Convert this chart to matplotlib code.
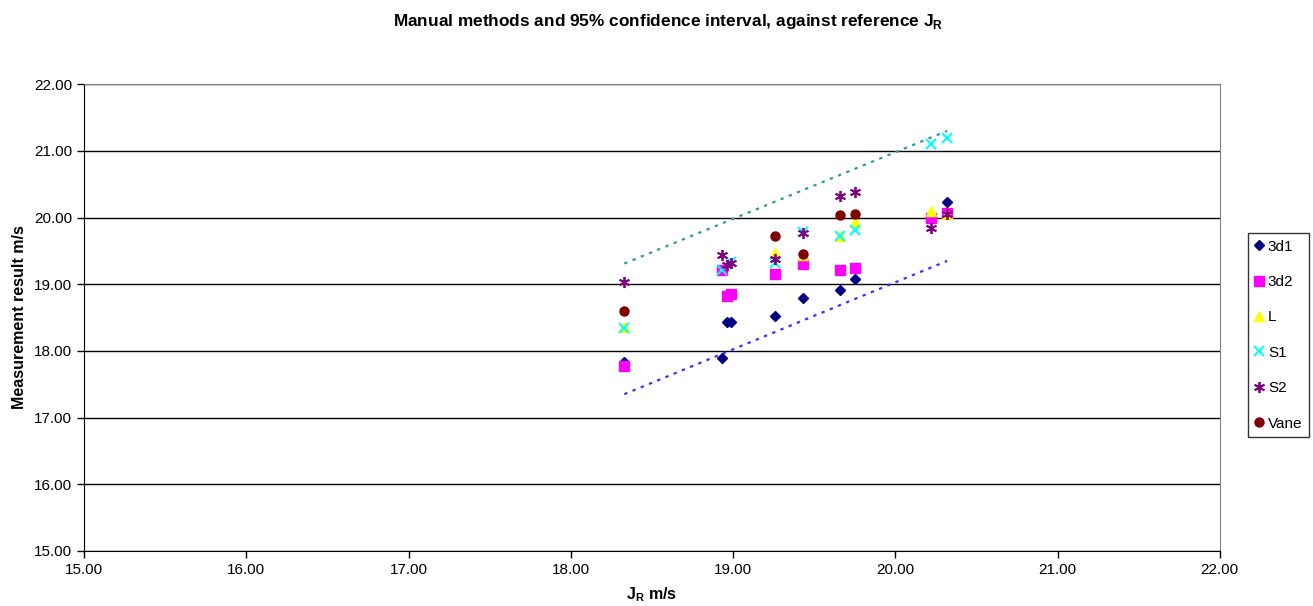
import matplotlib.pyplot as plt
import numpy as np

plt.rcParams['font.family'] = ['Liberation Sans', 'DejaVu Sans']

nan = np.nan

# reference J_R values (x)
jr = [18.33, 18.93, 18.96, 18.99, 19.26, 19.43, 19.66, 19.75, 20.22, 20.32]

# manual method results (y)
d3d1 = [17.84, 17.89, 18.43, 18.44, 18.52, 18.80, 18.92, 19.08, nan, 20.23]
d3d2 = [17.78, 19.21, 18.82, 18.85, 19.16, 19.30, 19.22, 19.24, 20.00, 20.07]
d_l = [18.36, nan, nan, nan, 19.47, 19.44, 19.72, 19.94, 20.10, 20.05]
d_s1 = [18.35, 19.21, nan, 19.33, 19.32, 19.79, 19.73, 19.82, 21.11, 21.19]
d_s2 = [19.03, 19.44, 19.29, 19.32, 19.38, 19.77, 20.33, 20.38, 19.85, 20.06]
d_vane = [18.60, nan, nan, nan, 19.73, 19.46, 20.04, 20.05, nan, nan]

# 95% confidence interval end points
ci_x = [18.33, 20.32]
ci_upper = [19.31, 21.30]
ci_lower = [17.35, 19.35]

fig = plt.figure(figsize=(13.13, 6.06), dpi=100)
ax = fig.add_axes([0.064, 0.091, 0.865, 0.770])

for y in range(15, 23):
    ax.axhline(y, color='black', lw=1.0, zorder=0)

ax.plot(ci_x, ci_upper, color='#339999', ls=(0, (1.5, 2.5)), lw=1.6, zorder=1)
ax.plot(ci_x, ci_lower, color='#3333ff', ls=(0, (1.5, 2.5)), lw=1.6, zorder=1)

ax.plot(jr, d3d1, 'D', color='#000080', ms=5, ls='none', label='3d1')
ax.plot(jr, d3d2, 's', color='#ff00ff', ms=6.5, ls='none', label='3d2')
ax.plot(jr, d_l, '^', color='#ffff00', ms=7, ls='none', label='L')
ax.plot(jr, d_s1, 'x', color='#00ffff', ms=7, mew=1.5, ls='none', label='S1')
ax.plot(jr, d_s2, marker=(6, 2, 0), color='#800080', ms=8, mew=1.3, ls='none', label='S2')
ax.plot(jr, d_vane, 'o', color='#800000', ms=6.5, ls='none', label='Vane')

ax.set_xlim(15, 22)
ax.set_ylim(15, 22)
ax.set_xticks(np.arange(15, 23))
ax.set_yticks(np.arange(15, 23))
ax.xaxis.set_major_formatter(plt.FormatStrFormatter('%.2f'))
ax.yaxis.set_major_formatter(plt.FormatStrFormatter('%.2f'))
ax.tick_params(labelsize=11, direction='out', length=5, width=1)

for side in ['top', 'right']:
    ax.spines[side].set_color('#808080')
for side in ['left', 'bottom']:
    ax.spines[side].set_color('black')

ax.set_xlabel('J$_\\mathregular{R}$ m/s', fontsize=11.5, fontweight='bold', labelpad=6)
ax.set_ylabel('Measurement result m/s', fontsize=11.5, fontweight='bold', labelpad=5)
fig.suptitle('Manual methods and 95% confidence interval, against reference J$_\\mathregular{R}$',
             fontsize=12.4, fontweight='bold', x=0.509, y=0.98)

leg = fig.legend(loc='center left', bbox_to_anchor=(0.9505, 0.447), fontsize=11,
                 frameon=True, fancybox=False, edgecolor='black', handlelength=0.5,
                 handletextpad=0.35, labelspacing=1.4, borderpad=0.45,
                 borderaxespad=0)
leg.get_frame().set_linewidth(1.0)

fig.savefig('out.png', dpi=100)
